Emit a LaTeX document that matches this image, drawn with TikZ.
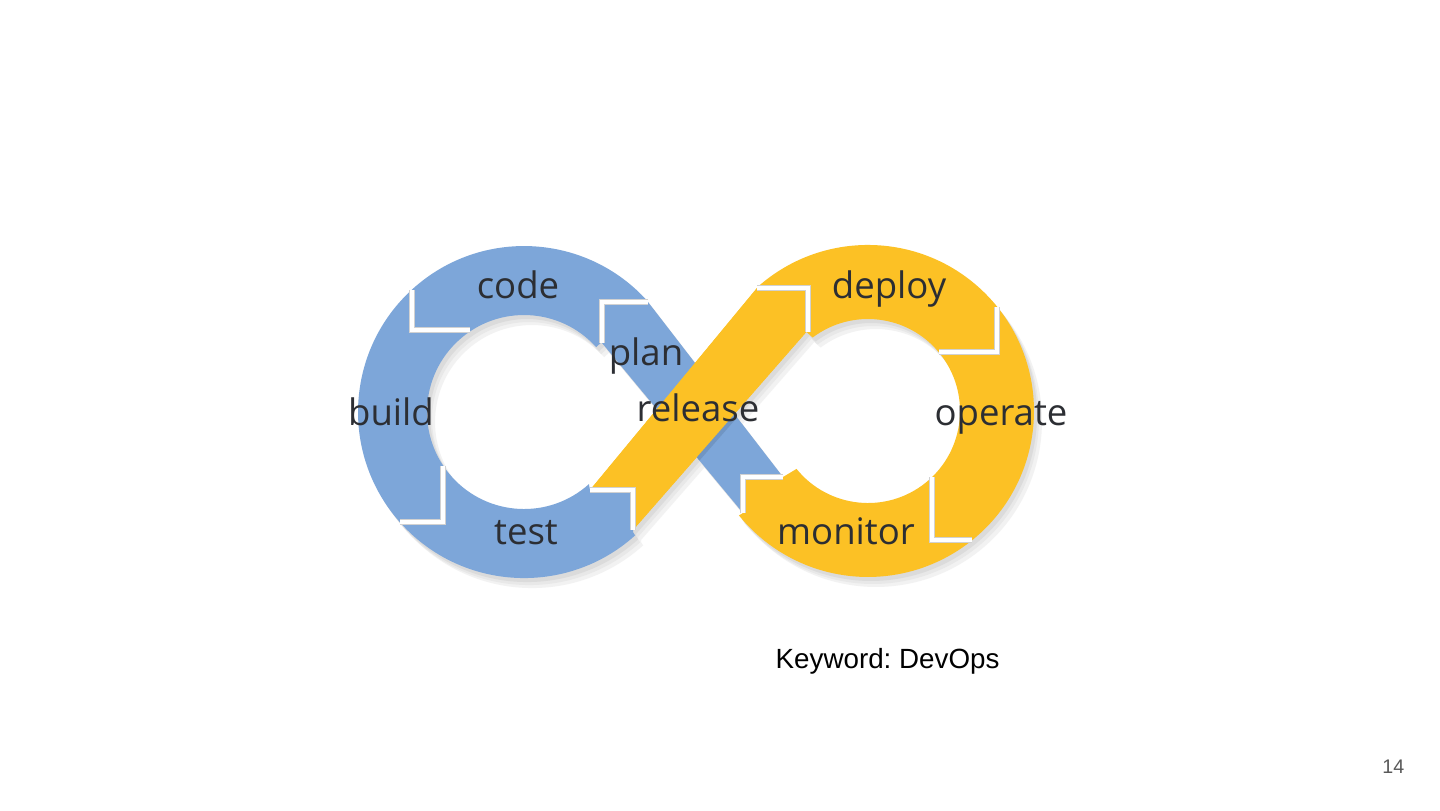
\documentclass[tikz,border=0pt]{standalone}
\usepackage{fontspec}
\newfontfamily\loopfont{Open Sans}
\newfontfamily\slidefont{Liberation Sans}
\definecolor{loopblue}{RGB}{125,166,217}
\definecolor{loopyellow}{RGB}{252,193,37}
\definecolor{looptext}{RGB}{44,46,51}
\definecolor{pagegray}{RGB}{89,89,89}
\newcommand\infloop[2]{%
\fill[#1] (602,302) -- (648,302) -- (783,477) -- (743,477) -- (743,513) -- (602,343) -- cycle;
\fill[#1] (635.1,535.4) arc[start angle=48,end angle=318,radius=166] -- (596.1,347.1) arc[start angle=318,end angle=48,radius=97] -- (590,490) -- (633,490) -- (633,532) -- cycle;
\fill[#2] (756.9,287.6) arc[start angle=-132,end angle=141,radius=166] -- (743,513) -- (743,477) -- (783,477) -- (796.5,468.9) arc[start angle=141,end angle=-127,radius=92] -- cycle;
\fill[#2] (808,288) -- (757,288) -- (590,490) -- (633,490) -- (633,530) -- (808,330) -- cycle;
}
\frenchspacing
\begin{document}
\begin{tikzpicture}[x=0.1mm,y=-0.1mm,
  seam/.style={draw=black!18,line width=0.4pt,double=white,double distance=1pt,line join=miter},
  lbl/.style={anchor=base,inner sep=0pt,text=looptext,font=\loopfont\fontsize{10.4}{12}\selectfont}]
\fill[white] (0,0) rectangle (1440,810);
\useasboundingbox (0,0) rectangle (1440,810);
\begin{scope}[shift={(8,10)}]
\infloop{black!5}{black!5}
\end{scope}
\begin{scope}[shift={(5,7)}]
\infloop{black!9}{black!9}
\end{scope}
\begin{scope}[shift={(3,4)}]
\infloop{black!14}{black!14}
\end{scope}
\infloop{loopblue}{loopyellow}
\begin{scope}
\clip (602,302) -- (648,302) -- (783,477) -- (743,477) -- (743,513) -- (602,343) -- cycle;
\fill[loopblue!90!black] (811,291) -- (760,291) -- (593,493) -- (636,493) -- (636,533) -- (811,333) -- cycle;
\end{scope}
\fill[loopyellow] (808,288) -- (757,288) -- (590,490) -- (633,490) -- (633,530) -- (808,330) -- cycle;
\draw[seam] (648,302) -- (602,302) -- (602,343);
\draw[seam] (412,290) -- (412,330) -- (470,330);
\draw[seam] (400,522) -- (443,522) -- (443,466);
\draw[seam] (590,490) -- (633,490) -- (633,530);
\draw[seam] (757,288) -- (808,288) -- (808,332);
\draw[seam] (997,307) -- (997,352) -- (939,352);
\draw[seam] (932,477) -- (932,540) -- (972,540);
\draw[seam] (783,477) -- (743,477) -- (743,513);
\node[lbl] (code) at (518,298) {code};
\node[lbl] (plan) at (646,365) {plan};
\node[lbl] (build) at (391,425) {build};
\node[lbl] (test) at (526,544) {test};
\node[lbl] (release) at (698,421) {release};
\node[lbl] (deploy) at (889,298) {deploy};
\node[lbl] (operate) at (1001,425) {operate};
\node[lbl] (monitor) at (846,544) {monitor};
\node[anchor=base west,inner sep=0pt,font=\slidefont\fontsize{7.9}{9.5}\selectfont] (keyword) at (775,668) {Keyword: DevOps};
\node[anchor=base east,inner sep=0pt,text=pagegray,font=\slidefont\fontsize{5.6}{7}\selectfont] (pageno) at (1405,773) {14};
\end{tikzpicture}
\end{document}
